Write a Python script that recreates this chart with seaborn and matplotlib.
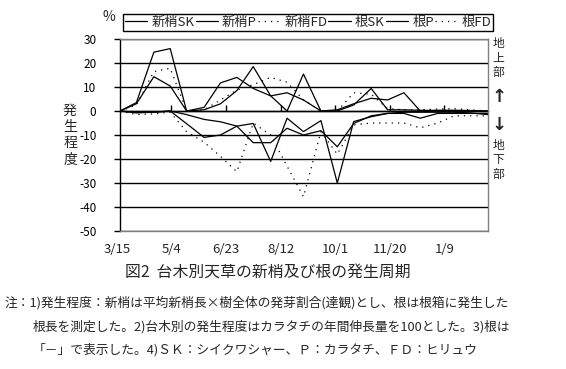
import matplotlib
matplotlib.use("Agg")
import matplotlib.pyplot as plt
import numpy as np
import pandas as pd
import seaborn as sns

# sampling days (days after 3/15)
days = [3, 18, 34, 49, 64, 80, 95, 110, 125, 141, 156, 171, 187, 202, 217, 233, 248, 263, 278, 294, 309, 324, 340]

shoot_sk = [0, 3.5, 24.5, 26, 0, 1.5, 11.7, 14, 9.4, 6.3, 7.6, 4.6, 0, 0.5, 3, 5.3, 4.6, 7.6, 0, 0.3, 0.3, 0.2, 0]
shoot_p = [0, 3, 14.3, 10.4, 0, 0.5, 3, 8.5, 18.5, 6.3, 0, 15.4, 0, 0, 2.5, 9.4, 0.5, 0.5, 0.3, 0.2, 0.2, 0.1, 0]
shoot_fd = [0, 2.5, 16.4, 17.8, 0, 0.5, 4.6, 8.7, 11, 14, 12, 4.6, 0, 0, 7.6, 7, 1, 0.5, 0.5, 0.8, 1, 0.5, 0]
root_sk = [0, -0.5, -0.5, 0, -1.5, -3.5, -4.5, -6.3, -5.2, -21, -3, -8.6, -4, -30, -4.4, -2.4, -1, -1, -3, -1, -1, -1, -1]
root_p = [0, -0.8, -0.5, 0, -5.3, -11, -10, -6.3, -13.2, -13.2, -7.2, -10, -8.2, -14.9, -5.2, -2, -1, -0.5, -0.5, -0.5, -0.5, -0.8, -1.5]
root_fd = [0, -1.5, -1.2, -0.5, -8.6, -13, -18.9, -25.3, -5, -10, -23, -35.7, -8.6, -18, -5.8, -5, -5, -5, -7, -5, -2, -2, -2]

series_names = ["新梢SK", "新梢P", "新梢FD", "根SK", "根P", "根FD"]
tick_days = [0, 50, 100, 150, 200, 250, 300]
tick_labels = ["3/15", "5/4", "6/23", "8/12", "10/1", "11/20", "1/9"]
y_ticks = [30, 20, 10, 0, -10, -20, -30, -40, -50]

sns.set_theme(style="white")
plt.rcParams["font.family"] = ["Noto Sans CJK JP", "DejaVu Sans"]
plt.rcParams["axes.unicode_minus"] = False

all_vals = [shoot_sk, shoot_p, shoot_fd, root_sk, root_p, root_fd]
df = pd.DataFrame({
    "day": days * len(series_names),
    "value": sum(all_vals, []),
    "series": sum([[n] * len(days) for n in series_names], []),
})

fig = plt.figure(figsize=(5.66, 3.69), dpi=100)
ax = fig.add_axes([120 / 566, 1 - 231 / 369, 368 / 566, 192 / 369])

dash_map = {"新梢SK": "", "新梢P": "", "新梢FD": (1, 4),
            "根SK": "", "根P": "", "根FD": (1, 4)}
sns.lineplot(data=df, x="day", y="value", hue="series", style="series",
             hue_order=series_names, style_order=series_names,
             palette=["black"] * 6, dashes=dash_map, linewidth=0.9,
             estimator=None, sort=False, legend=False, ax=ax)

ax.set_xlim(days[0], days[-1])
ax.set_ylim(-50, 30)
ax.set_yticks(y_ticks)
ax.set_yticklabels([str(v) for v in y_ticks], fontsize=8.5)
ax.set_xticks([])
ax.set_xlabel("")
ax.set_ylabel("")
ax.yaxis.grid(True, color="black", linewidth=1.0)
ax.set_axisbelow(True)
ax.tick_params(axis="y", which="major", direction="out", length=4, width=1,
               color="black", pad=13, left=True, labelcolor="black")
for s in ["top", "right", "bottom"]:
    ax.spines[s].set_color("#808080")
    ax.spines[s].set_linewidth(1.0)
ax.spines["left"].set_color("black")
ax.spines["left"].set_linewidth(1.0)

# category axis crossing at zero with upward tick marks
sec = ax.secondary_xaxis(50 / 80)
sec.set_xticks(tick_days[1:])
sec.tick_params(direction="out", length=4, width=1, color="black",
                labeltop=False, labelbottom=False)
for s in sec.spines.values():
    s.set_color("black")
    s.set_linewidth(1.0)

# date labels under the plot
xtr = ax.get_xaxis_transform()
for d, lab in zip(tick_days, tick_labels):
    ax.text(d, -0.095, lab, transform=xtr, ha="center", va="center",
            fontsize=9.5, clip_on=False)

# legend
handles = ax.get_lines()[:6]
leg = fig.legend(handles, series_names, ncol=6, loc="lower left",
                 bbox_to_anchor=(123 / 566, 1 - 31 / 369, 370 / 566, 0.05),
                 mode="expand", frameon=True, fancybox=False, fontsize=9.5,
                 handlelength=1.7, handletextpad=0.3, columnspacing=0.3,
                 borderpad=0.15, borderaxespad=0)
leg.get_frame().set_edgecolor("black")
leg.get_frame().set_linewidth(1.0)
leg.get_frame().set_alpha(1)

fig.text(109 / 566, 1 - 17 / 369, "%", ha="center", va="center", fontsize=10)

# y label, stacked
fig.text(70 / 566, 1 - 135 / 369, "発\n生\n程\n度", ha="center", va="center",
         fontsize=10, linespacing=1.22)

# right side annotation
fig.text(498 / 566, 1 - 58 / 369, "地\n上\n部", ha="center", va="center",
         fontsize=8.5, linespacing=1.15)
fig.text(498 / 566, 1 - 160 / 369, "地\n下\n部", ha="center", va="center",
         fontsize=8.5, linespacing=1.15)
fig.text(499 / 566, 1 - 97 / 369, "↑", ha="center", va="center", fontsize=13,
         fontweight="bold", family="DejaVu Sans")
fig.text(499 / 566, 1 - 125 / 369, "↓", ha="center", va="center", fontsize=13,
         fontweight="bold", family="DejaVu Sans")

fig.text(268 / 566, 1 - 272 / 369, "図2  台木別天草の新梢及び根の発生周期",
         ha="center", va="center", fontsize=11.4)

fig.text(5 / 566, 1 - 303 / 369,
         "注：1)発生程度：新梢は平均新梢長×樹全体の発芽割合(達観)とし、根は根箱に発生した",
         ha="left", va="center", fontsize=9.2)
fig.text(33 / 566, 1 - 327 / 369,
         "根長を測定した。2)台木別の発生程度はカラタチの年間伸長量を100とした。3)根は",
         ha="left", va="center", fontsize=9.2)
fig.text(33 / 566, 1 - 350 / 369,
         "「－」で表示した。4)ＳＫ：シイクワシャー、Ｐ：カラタチ、ＦＤ：ヒリュウ",
         ha="left", va="center", fontsize=9.2)

fig.savefig("out.png", dpi=100)
